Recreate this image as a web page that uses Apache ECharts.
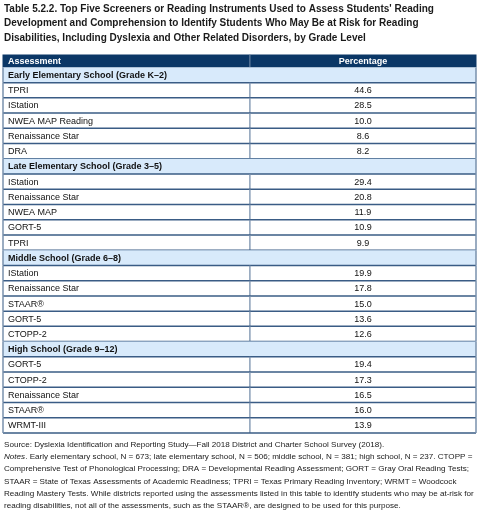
<!DOCTYPE html>
<html><head><meta charset="utf-8">
<script src="https://cdn.jsdelivr.net/npm/echarts@6/dist/echarts.min.js"></script>
<style>html,body{margin:0;padding:0;background:#fff}#c{width:485px;height:511px}</style>
</head><body><div id="c"></div>
<script>
const titleLines = [
  "Table 5.2.2. Top Five Screeners or Reading Instruments Used to Assess Students' Reading",
  "Development and Comprehension to Identify Students Who May Be at Risk for Reading",
  "Disabilities, Including Dyslexia and Other Related Disorders, by Grade Level"
];
const headerLabels = ["Assessment", "Percentage"];
const sections = [
  "Early Elementary School (Grade K\u20132)",
  "Late Elementary School (Grade 3\u20135)",
  "Middle School (Grade 6\u20138)",
  "High School (Grade 9\u201312)"
];
const assessments = [
  ["TPRI", "IStation", "NWEA MAP Reading", "Renaissance Star", "DRA"],
  ["IStation", "Renaissance Star", "NWEA MAP", "GORT-5", "TPRI"],
  ["IStation", "Renaissance Star", "STAAR\u00AE", "GORT-5", "CTOPP-2"],
  ["GORT-5", "CTOPP-2", "Renaissance Star", "STAAR\u00AE", "WRMT-III"]
];
const percentages = [
  [44.6, 28.5, 10.0, 8.6, 8.2],
  [29.4, 20.8, 11.9, 10.9, 9.9],
  [19.9, 17.8, 15.0, 13.6, 12.6],
  [19.4, 17.3, 16.5, 16.0, 13.9]
];
const sourceLine = "Source: Dyslexia Identification and Reporting Study\u2014Fall 2018 District and Charter School Survey (2018).";
const notesLines = [
  "{i|Notes}. Early elementary school, N = 673; late elementary school, N = 506; middle school, N = 381; high school, N = 237. CTOPP =",
  "Comprehensive Test of Phonological Processing; DRA = Developmental Reading Assessment; GORT = Gray Oral Reading Tests;",
  "STAAR = State of Texas Assessments of Academic Readiness; TPRI = Texas Primary Reading Inventory; WRMT = Woodcock",
  "Reading Mastery Tests. While districts reported using the assessments listed in this table to identify students who may be at-risk for",
  "reading disabilities, not all of the assessments, such as the STAAR\u00AE, are designed to be used for this purpose."
];

// build rows
const rows = [];
sections.forEach((s, i) => {
  rows.push({ kind: 'section', name: s });
  assessments[i].forEach((a, j) => rows.push({ kind: 'data', name: a, value: percentages[i][j] }));
});

const FONT = 'Liberation Sans, Arial, sans-serif';
const FS = 9;
const DIVIDER = 0.522;
const HEADER_H = 13;
const HEADER_BG = '#0b3766';
const SECTION_BG = '#d8eafb';
const LINE_C = '#3a5c85';
const VLINE_C = '#7890ac';
const TEXT_C = '#111';

const chart = echarts.init(document.getElementById('c'), null, { renderer: 'canvas' });

function renderItem(params, api) {
  const i = params.dataIndex;
  const r = rows[i];
  const c0 = api.coord([0, i]);
  const c1 = api.coord([1, i]);
  const cm = api.coord([DIVIDER, i]);
  const bandH = api.size([0, 1])[1];
  const left = c0[0], right = c1[0], mid = cm[0], yc = c0[1];
  const y0 = yc - bandH / 2, y1 = yc + bandH / 2;
  const children = [];
  if (i === 0) {
    const hy0 = y0 - HEADER_H;
    children.push({ type: 'rect', shape: { x: left - 0.5, y: hy0, width: right - left + 1, height: HEADER_H }, style: { fill: HEADER_BG } });
    children.push({ type: 'line', shape: { x1: mid, y1: hy0, x2: mid, y2: y0 }, style: { stroke: VLINE_C, lineWidth: 1 } });
    children.push({ type: 'text', style: { text: headerLabels[0], x: left + 5, y: hy0 + HEADER_H / 2 + 0.5, verticalAlign: 'middle', fill: '#fff', font: 'bold ' + FS + 'px ' + FONT } });
    children.push({ type: 'text', style: { text: headerLabels[1], x: (mid + right) / 2, y: hy0 + HEADER_H / 2 + 0.5, align: 'center', verticalAlign: 'middle', fill: '#fff', font: 'bold ' + FS + 'px ' + FONT } });
  }
  if (r.kind === 'section') {
    children.push({ type: 'rect', shape: { x: left, y: y0, width: right - left, height: bandH }, style: { fill: SECTION_BG } });
    children.push({ type: 'text', style: { text: r.name, x: left + 5, y: yc + 0.5, verticalAlign: 'middle', fill: TEXT_C, font: 'bold ' + FS + 'px ' + FONT } });
  } else {
    children.push({ type: 'text', style: { text: r.name, x: left + 5, y: yc + 0.5, verticalAlign: 'middle', fill: TEXT_C, font: FS + 'px ' + FONT } });
    children.push({ type: 'text', style: { text: r.value.toFixed(1), x: (mid + right) / 2, y: yc + 0.5, align: 'center', verticalAlign: 'middle', fill: TEXT_C, font: FS + 'px ' + FONT } });
    children.push({ type: 'line', shape: { x1: mid, y1: y0, x2: mid, y2: y1 }, style: { stroke: VLINE_C, lineWidth: 1.3 } });
  }
  children.push({ type: 'line', shape: { x1: left, y1: y1, x2: right, y2: y1 }, style: { stroke: LINE_C, lineWidth: 1.5 } });
  children.push({ type: 'line', shape: { x1: left, y1: y0, x2: left, y2: y1 }, style: { stroke: VLINE_C, lineWidth: 1.5 } });
  children.push({ type: 'line', shape: { x1: right, y1: y0, x2: right, y2: y1 }, style: { stroke: VLINE_C, lineWidth: 1.5 } });
  return { type: 'group', children };
}

chart.setOption({
  animation: false,
  title: [
    {
      text: titleLines.join('\n'),
      left: 4, top: 1.5, padding: 0,
      textStyle: { fontFamily: FONT, fontSize: 10, fontWeight: 'bold', color: '#1a1a1a', lineHeight: 14.6 }
    },
    {
      text: [sourceLine].concat(notesLines).join('\n'),
      left: 4, top: 439, padding: 0,
      textStyle: {
        fontFamily: FONT, fontSize: 8.1, fontWeight: 'normal', color: '#1a1a1a', lineHeight: 12.1,
        rich: { i: { fontFamily: FONT, fontSize: 8.1, fontStyle: 'italic', color: '#1a1a1a', lineHeight: 12.1 } }
      }
    }
  ],
  grid: { left: 3, right: 9, top: 67.4, bottom: 78, containLabel: false },
  xAxis: { type: 'value', min: 0, max: 1, show: false },
  yAxis: { type: 'category', inverse: true, show: false, data: rows.map(r => r.name) },
  series: [{
    type: 'custom',
    renderItem,
    data: rows.map((r, i) => [0, i]),
    encode: { x: 0, y: 1 },
    silent: true
  }]
});
</script>
</body></html>
